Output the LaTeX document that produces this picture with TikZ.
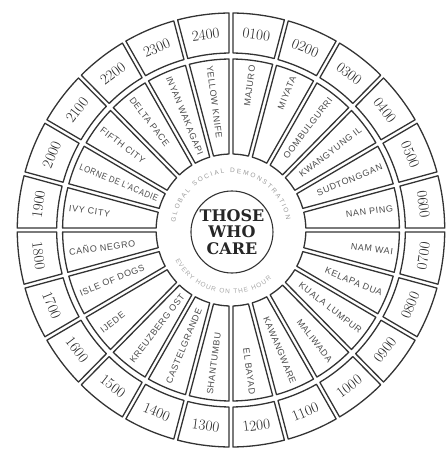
\documentclass[tikz,border=0pt]{standalone}
\usepackage{fontspec}
\usetikzlibrary{decorations.text}
\newfontfamily\townfont[LetterSpace=7]{Liberation Sans}
\newfontfamily\ringfont{Liberation Sans}
\newfontfamily\carefont{DejaVu Serif}

% one boxed cell of the wheel: mid angle, inner radius, outer radius
\newcommand\wedgecell[3]{%
  \pgfmathsetmacro\aOa{#1-7.5+asin(2/#3)}\pgfmathsetmacro\aOb{#1+7.5-asin(2/#3)}%
  \pgfmathsetmacro\aIa{#1-7.5+asin(2/#2)}\pgfmathsetmacro\aIb{#1+7.5-asin(2/#2)}%
  \draw[cell] (\aOa:#3) arc[start angle=\aOa, end angle=\aOb, radius=#3]
    -- (\aIb:#2) arc[start angle=\aIb, end angle=\aIa, radius=#2] -- cycle;}
% squeeze a long town name into its cell
\newcommand\fitname[1]{\setbox0=\hbox{#1}\pgfmathsetmacro\fitk{min(1,84/\wd0)}%
  \scalebox{\fitk}[1]{#1}}

\begin{document}
\begin{tikzpicture}[x=0.985pt, y=1pt,
  cell/.style={draw=black!80, line width=1.3pt, line join=round},
  hour/.style={font=\fontsize{15}{15}\selectfont, text=black!85, inner sep=0pt},
  town/.style={font=\townfont\fontsize{9}{10}\selectfont, text=black!70, inner sep=0pt},
  hub/.style={circle, draw=black!80, line width=1.1pt, minimum size=82pt, inner sep=0pt,
    align=center, text=black!85, font=\carefont\bfseries\fontsize{16}{16.5}\selectfont}]
  \useasboundingbox (-231pt,-225pt) rectangle (214pt,230pt);

  % Hour ring and town ring
  \foreach \hr/\town [count=\k from 0] in {0100/MAJURO, 0200/MIYATA, 0300/OOMBULGURRI,
      0400/KWANGYUNG IL, 0500/SUDTONGGAN, 0600/NAN PING, 0700/NAM WAI, 0800/KELAPA DUA,
      0900/KUALA LUMPUR, 1000/MALIWADA, 1100/KAWANGWARE, 1200/EL BAYAD, 1300/SHANTUMBU,
      1400/CASTELGRANDE, 1500/KREUZBERG OST, 1600/IJEDE, 1700/ISLE OF DOGS,
      1800/CAÑO NEGRO, 1900/IVY CITY, 2000/LORNE DE L'ACADIE, 2100/FIFTH CITY,
      2200/DELTA PACE, 2300/INYAN WAKAGAPI, 2400/YELLOW KNIFE} {
    \pgfmathsetmacro\ang{82.5-15*\k}
    \pgfmathsetmacro\ang{\ang < -90 ? \ang+360 : \ang}
    \wedgecell{\ang}{177}{217}
    \wedgecell{\ang}{76}{171}
    \pgfmathsetmacro\hrot{(\ang > 0 && \ang < 180) ? \ang-90 : \ang+90}
    \node[hour, rotate=\hrot] (h\k) at (\ang:197) {\hr};
    \ifdim\ang pt<90pt
      \node[town, rotate=\ang, anchor=east] (c\k) at (\ang:166) {\fitname{\town}};
    \else
      \node[town, rotate=\ang-180, anchor=west] (c\k) at (\ang:166) {\fitname{\town}};
    \fi
  }

  % Faint ring texts
  \path[decorate, decoration={text along path, text align=fit to path, text color=black!40,
      text={|\ringfont\fontsize{6.5}{7}\selectfont|GLOBAL SOCIAL DEMONSTRATION}}]
    (172:57) arc[start angle=172, end angle=10, radius=57];
  \path[decorate, decoration={text along path, text align=fit to path, text color=black!35,
      text={|\ringfont\fontsize{6.5}{7}\selectfont|EVERY HOUR ON THE HOUR}}]
    (208:64) arc[start angle=208, end angle=310, radius=64];

  % Centre
  \node[hub] (hub) at (1,-2) {THOSE\\WHO\\CARE};
\end{tikzpicture}
\end{document}
